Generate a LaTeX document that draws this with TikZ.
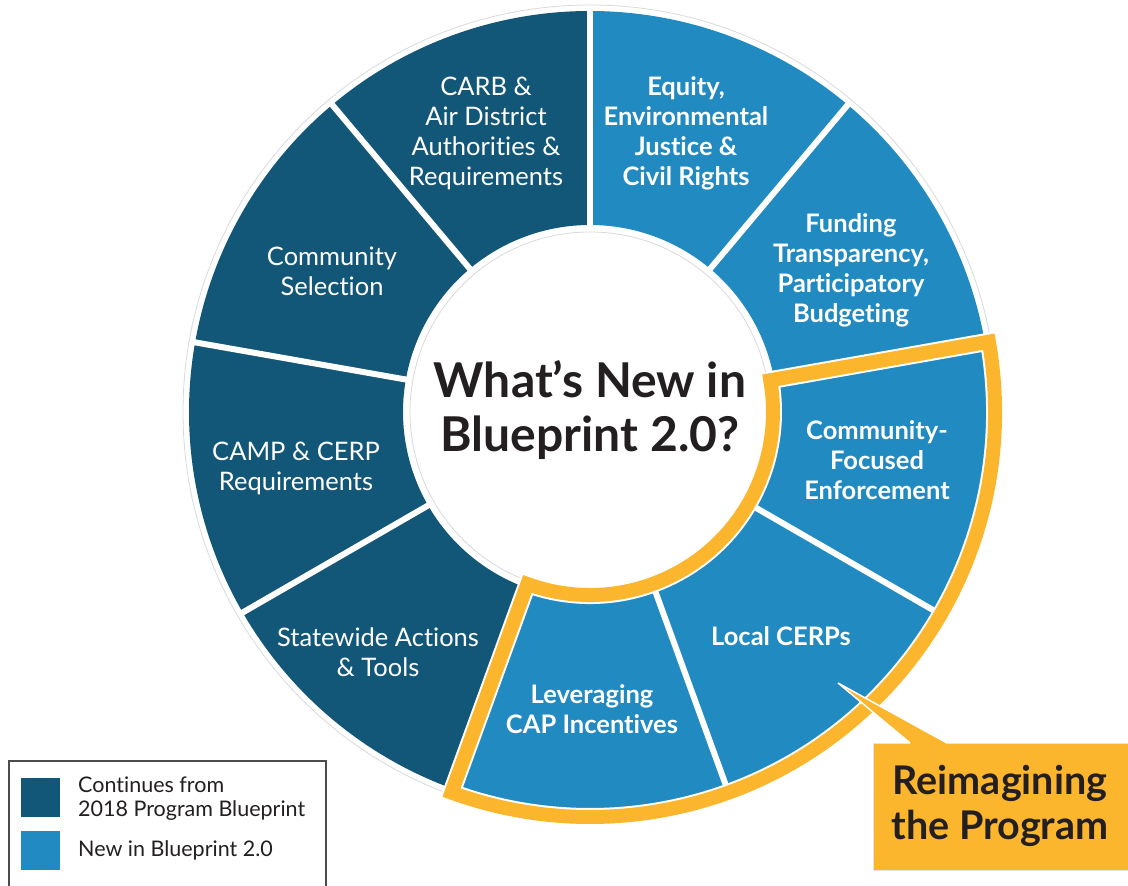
\documentclass[tikz,border=0pt]{standalone}
\usepackage{fontspec}
\setmainfont[Ligatures=NoCommon, RawFeature=-liga]{Lato}
\definecolor{darkseg}{RGB}{18,86,120}
\definecolor{lightseg}{RGB}{33,138,192}
\definecolor{orangeh}{RGB}{251,182,45}
\definecolor{txtdark}{RGB}{35,31,32}
\begin{document}
\begin{tikzpicture}[x=1pt,y=1pt,
  seglabel/.style={align=center, text=white, font=\fontsize{25.5}{30}\selectfont, inner sep=0pt},
  segbold/.style={align=center, text=white, font=\fontsize{25.5}{30}\selectfont\bfseries, inner sep=0pt},
  legsq/.style={minimum size=39pt, inner sep=0pt},
  legtext/.style={anchor=west, text=txtdark, font=\fontsize{21.5}{24}\selectfont, inner sep=0pt},
  frame/.style={line join=miter}]
\useasboundingbox (0,0) rectangle (1128,886);
\begin{scope}[shift={(590,474)}]
  \foreach \a/\c in {90/darkseg,130/darkseg,170/darkseg,210/darkseg,50/lightseg,10/lightseg,-30/lightseg,-70/lightseg,-110/lightseg}{
    \pgfmathsetmacro\b{\a+40}
    \fill[\c] (\a:187) arc[start angle=\a, end angle=\b, radius=187] -- (\b:401) arc[start angle=\b, end angle=\a, radius=401] -- cycle;
  }
  \foreach \a in {90,50,10,-30,-70,-110,-150,170,130}
    \draw[white, line width=6pt] (\a:182) -- (\a:406);
  \draw[gray!30, line width=0.8pt] (0,0) circle[radius=407];
  \draw[gray!30, line width=0.8pt] (0,0) circle[radius=180];
  \draw[white, line width=18pt, frame] (10:183) -- (10:405) arc[start angle=10, end angle=-110, radius=405] -- (-110:183) arc[start angle=-110, end angle=10, radius=183] -- cycle;
  \draw[orangeh, line width=14pt, frame] (10:183) -- (10:405) arc[start angle=10, end angle=-110, radius=405] -- (-110:183) arc[start angle=-110, end angle=10, radius=183] -- cycle;
\end{scope}

\node[font=\fontsize{48}{54}\selectfont\bfseries, text=txtdark, align=center] (center) at (590,476) {What’s New in\\Blueprint 2.0?};

\node[seglabel] (carb) at (486,753) {CARB \&\\Air District\\Authorities \&\\Requirements};
\node[segbold] (equity) at (686,753) {Equity,\\Environmental\\Justice \&\\Civil Rights};
\node[segbold] (funding) at (851,616) {Funding\\Transparency,\\Participatory\\Budgeting};
\node[segbold] (enforce) at (877,426) {Community-\\Focused\\Enforcement};
\node[segbold] (cerps) at (781,250) {Local CERPs};
\node[segbold] (cap) at (592,176.5) {Leveraging\\CAP Incentives};
\node[seglabel] (statewide) at (378,233.5) {Statewide Actions\\\& Tools};
\node[seglabel] (camp) at (296,417.5) {CAMP \& CERP\\Requirements};
\node[seglabel] (selection) at (332,615) {Community\\Selection};

% callout
\node[fill=orangeh, draw=gray!20, line width=0.8pt, minimum width=255pt, minimum height=127pt, inner sep=0pt] (callout) at (1000.5,79.5) {};
\coordinate (tip) at (838,203);
\coordinate (b1) at (910,143);
\coordinate (b2) at (947,143);
\fill[orangeh] (b1) -- (tip) -- (b2) -- ([yshift=-2pt]b2) -- ([yshift=-2pt]b1) -- cycle;
\draw[white, line width=1.5pt, line join=miter] (b1) -- (tip) -- (b2);
\node[text=txtdark, font=\fontsize{39.5}{45}\selectfont\bfseries, align=center, inner sep=0pt] (ctext) at (1000,80.5) {Reimagining\\the Program};

% legend
\draw[gray!60!black, line width=1.2pt] (9,125) rectangle (326,-20);
\node[legsq, fill=darkseg] (sq1) at (40.5,88.5) {};
\node[legsq, fill=lightseg] (sq2) at (40.5,35) {};
\node[legtext] (l1) at (78,101) {Continues from};
\node[legtext] (l2) at (78,75) {2018 Program Blueprint};
\node[legtext] (l3) at (78,36) {New in Blueprint 2.0};
\end{tikzpicture}
\end{document}
